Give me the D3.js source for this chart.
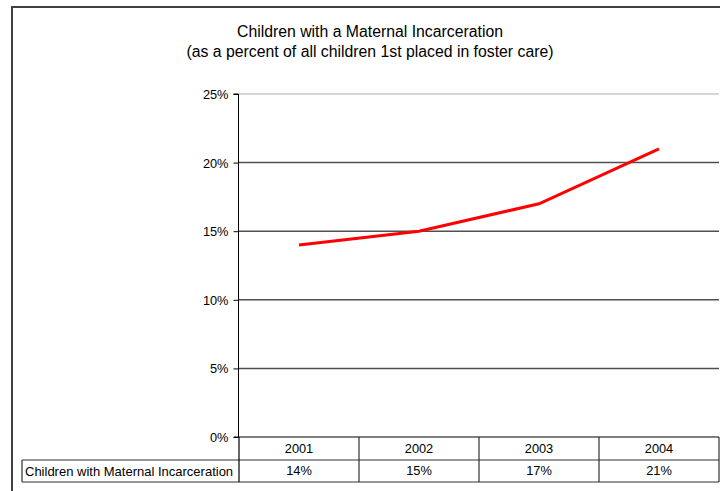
<!DOCTYPE html>
<html><head><meta charset="utf-8">
<script src="https://cdn.jsdelivr.net/npm/d3@7/dist/d3.min.js"></script>
<style>body{margin:0;background:#fff}svg{display:block}text{font-family:"Liberation Sans",Arial,sans-serif;fill:#000}</style>
</head><body>
<svg id="c" width="720" height="491"></svg>
<script>
const years = ["2001","2002","2003","2004"];
const values = [14, 15, 17, 21];
const yTicks = [0, 5, 10, 15, 20, 25];
const seriesName = "Children with Maternal Incarceration";
const titleLines = ["Children with a Maternal Incarceration", "(as a percent of all children 1st placed in foster care)"];

(function(){
const svg = d3.select("#c");
// outer frame
svg.append("rect").attr("x",12).attr("y",7).attr("width",720).attr("height",500)
  .attr("fill","none").attr("stroke","#404040").attr("stroke-width",2);

svg.selectAll("text.title").data(titleLines).enter().append("text")
  .attr("x",370).attr("y",(d,i)=>37+i*20).attr("text-anchor","middle")
  .style("font-size","15.8px").text(d=>d);

const pLeft=239, pRight=719, pTop=94, pBottom=437;
const x = d3.scaleBand().domain(years).range([pLeft,pRight]);
const y = d3.scaleLinear().domain([0,25]).range([pBottom,pTop]);

// gridlines
svg.selectAll("line.grid").data(yTicks.filter(t=>t>0)).enter().append("line")
  .attr("x1",pLeft).attr("x2",pRight).attr("y1",d=>y(d)).attr("y2",d=>y(d))
  .attr("stroke",d=>d===25?"#c8c8c8":"#505050").attr("stroke-width",1.5);

// y axis
const ya = svg.append("g").attr("transform",`translate(${pLeft-0.5},0)`)
  .call(d3.axisLeft(y).tickValues(yTicks).tickFormat(d=>d+"%").tickSize(5).tickPadding(5));
ya.select(".domain").attr("stroke","#000").attr("d",`M-5,${pTop}H0V${pBottom}`);
ya.selectAll(".tick line").attr("stroke","#000");
ya.selectAll(".tick text").style("font-size","12.8px").style("font-family","Liberation Sans, Arial, sans-serif").attr("dy","0.35em");

// line
const line = d3.line().x((d,i)=>x(years[i])+x.bandwidth()/2).y(d=>y(d));
svg.append("path").datum(values).attr("d",line).attr("fill","none")
  .attr("stroke","#ff0000").attr("stroke-width",3);

// data table
const r1=pBottom, r2=460, r3=482, labelLeft=22;
const tg = svg.append("g").attr("stroke","#303030").attr("stroke-width",1.2);
tg.append("line").attr("x1",pLeft-5).attr("x2",pRight).attr("y1",r1).attr("y2",r1).attr("stroke","#000");
tg.append("line").attr("x1",labelLeft).attr("x2",pRight).attr("y1",r2).attr("y2",r2);
tg.append("line").attr("x1",labelLeft).attr("x2",pRight).attr("y1",r3).attr("y2",r3);
tg.append("line").attr("x1",labelLeft).attr("x2",labelLeft).attr("y1",r2).attr("y2",r3);
tg.append("line").attr("x1",pLeft).attr("x2",pLeft).attr("y1",r1).attr("y2",r3).attr("stroke","#000");
tg.selectAll("line.col").data(years).enter().append("line")
  .attr("x1",d=>x(d)+x.bandwidth()).attr("x2",d=>x(d)+x.bandwidth())
  .attr("y1",r1).attr("y2",r3);

svg.selectAll("text.yr").data(years).enter().append("text")
  .attr("x",d=>x(d)+x.bandwidth()/2).attr("y",(r1+r2)/2).attr("dy","0.35em")
  .attr("text-anchor","middle").style("font-size","12.8px").text(d=>d);
svg.selectAll("text.val").data(values).enter().append("text")
  .attr("x",(d,i)=>x(years[i])+x.bandwidth()/2).attr("y",(r2+r3)/2).attr("dy","0.35em")
  .attr("text-anchor","middle").style("font-size","12.8px").text(d=>d+"%");
svg.append("text").attr("x",labelLeft+3).attr("y",(r2+r3)/2).attr("dy","0.35em")
  .style("font-size","13px").text(seriesName);
})();
</script>
</body></html>
